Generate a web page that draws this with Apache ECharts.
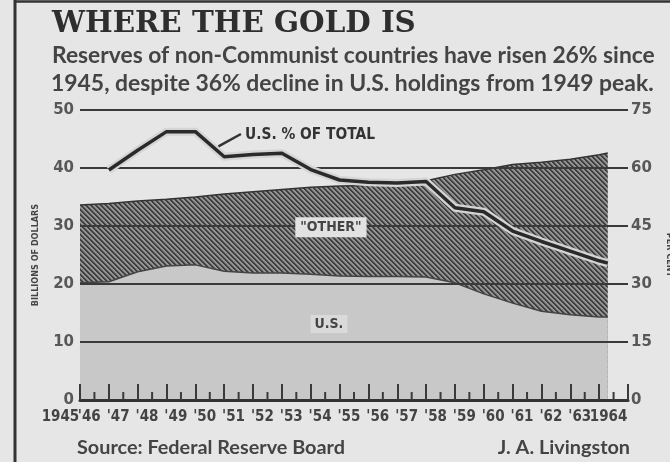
<!DOCTYPE html>
<html><head><meta charset="utf-8">
<script src="https://cdn.jsdelivr.net/npm/echarts@6/dist/echarts.min.js"></script>
<style>html,body{margin:0;padding:0;background:#e6e6e6}#c{width:670px;height:462px}</style>
</head><body><div id="c"></div>
<script>
// ---- data ----
const yearLabels = ['1945',"'46","'47","'48","'49","'50","'51","'52","'53","'54","'55","'56","'57","'58","'59","'60","'61","'62","'63",'1964'];
// year-end positions, last point = early 1964 reading
const years = [1945,1946,1947,1948,1949,1950,1951,1952,1953,1954,1955,1956,1957,1958,1959,1960,1961,1962,1963,1963.3];
const totalReserves = [33.6,33.9,34.3,34.6,35.0,35.5,35.9,36.3,36.7,36.9,37.0,37.2,37.8,38.9,39.7,40.6,41.0,41.5,42.3,42.6];
const usHoldings    = [20.2,20.4,22.1,23.1,23.3,22.2,21.9,21.9,21.7,21.4,21.3,21.3,21.2,20.2,18.3,16.7,15.3,14.7,14.3,14.3];
const usPercent     = [null,59.5,64.6,69.4,69.4,62.9,63.5,63.8,59.6,56.9,56.3,56.1,56.5,49.7,48.7,43.7,41.0,38.5,36.0,35.4];
const halfYearTicks = [1945.5,1946.5,1947.5,1948.5,1949.5,1950.5,1951.5,1952.5,1953.5,1954.5,1955.5,1956.5,1957.5,1958.5,1959.5,1960.5,1961.5,1962.5,1963.5];

const titleText = 'WHERE THE GOLD IS';
const subLine1 = 'Reserves of non-Communist countries have risen 26% since';
const subLine2 = '1945, despite 36% decline in U.S. holdings from 1949 peak.';

// ---- helpers ----
const mctx = document.createElement('canvas').getContext('2d');
function fit(text, weight, family, width){
  mctx.font = weight + ' 100px ' + family;
  return 100 * width / mctx.measureText(text).width;
}
function makeHatch(){
  const s = 5, c = document.createElement('canvas'); c.width = s; c.height = s;
  const g = c.getContext('2d'); const img = g.createImageData(s, s);
  for (let y = 0; y < s; y++) for (let x = 0; x < s; x++) {
    const d = ((x - y) % s + s) % s;
    const v = d < 2 ? 0x3e : (d === 2 ? 0x70 : 0x94);
    const i = (y * s + x) * 4;
    img.data[i] = v; img.data[i+1] = v; img.data[i+2] = v; img.data[i+3] = 255;
  }
  g.putImageData(img, 0, 0);
  return c;
}
const hatch = makeHatch();

const totalPts = years.map((y, i) => [y, totalReserves[i]]);
const usPts = years.map((y, i) => [y, usHoldings[i]]);
const pctPts = years.map((y, i) => [y, usPercent[i]]).filter(p => p[1] !== null);

const chart = echarts.init(document.getElementById('c'), null, {renderer: 'canvas'});
const numFont = {fontFamily: 'DejaVu Sans', fontWeight: 'bold', fontSize: 15, color: '#585858'};
const option = {
  backgroundColor: '#e6e6e6',
  animation: false,
  grid: [
    {left: 80, right: 42, top: 110, bottom: 62, outerBoundsMode: 'none', containLabel: false},
    {left: 46, right: 47, top: 399, height: 1, outerBoundsMode: 'none', containLabel: false}
  ],
  xAxis: [
    {type: 'value', gridIndex: 0, position: 'bottom', min: 1945, max: 1964, interval: 1, z: 7,
     axisLine: {show: true, lineStyle: {color: '#333', width: 3}},
     axisTick: {show: true, inside: true, length: 16, lineStyle: {color: '#3a3a3a', width: 2}},
     axisLabel: {show: false}, splitLine: {show: false}},
    {type: 'category', gridIndex: 1, data: yearLabels, boundaryGap: true,
     axisLine: {show: false}, axisTick: {show: false},
     axisLabel: {interval: 0, margin: 10, fontFamily: 'DejaVu Sans Condensed', fontWeight: 'bold', fontSize: 15, color: '#444'}}
  ],
  yAxis: [
    {type: 'value', gridIndex: 0, min: 0, max: 50, interval: 10, position: 'left', z: 3,
     axisLine: {show: false}, axisTick: {show: false},
     axisLabel: Object.assign({margin: 6}, numFont),
     splitLine: {show: true, lineStyle: {color: '#3a3a3a', width: 2}},
     name: 'BILLIONS OF DOLLARS', nameLocation: 'middle', nameRotate: 90, nameGap: 40,
     nameTextStyle: {fontFamily: 'DejaVu Sans Condensed', fontWeight: 'bold', fontSize: 9, color: '#444'}},
    {type: 'value', gridIndex: 0, min: 0, max: 75, interval: 15, position: 'right', z: 3,
     axisLine: {show: false}, axisTick: {show: false},
     axisLabel: Object.assign({margin: 3}, numFont),
     splitLine: {show: false},
     name: 'PER CENT', nameLocation: 'middle', nameRotate: -90, nameGap: 37,
     nameTextStyle: {fontFamily: 'DejaVu Sans Condensed', fontWeight: 'bold', fontSize: 9, color: '#444'}},
    {type: 'value', gridIndex: 1, show: false}
  ],
  series: [
    {name: 'Total', type: 'line', xAxisIndex: 0, yAxisIndex: 0, data: totalPts, symbol: 'none', z: 1,
     lineStyle: {color: '#333', width: 1.5}, areaStyle: {color: {image: hatch, repeat: 'repeat'}, opacity: 1}},
    {name: 'U.S.', type: 'line', xAxisIndex: 0, yAxisIndex: 0, data: usPts, symbol: 'none', z: 2,
     lineStyle: {color: '#444', width: 1.5}, areaStyle: {color: '#c8c8c8', opacity: 1}},
    {name: 'halo', type: 'line', xAxisIndex: 0, yAxisIndex: 1, data: pctPts, symbol: 'none', z: 4,
     lineStyle: {color: '#d4d4d4', width: 8, join: 'round'}},
    {name: 'U.S. % of total', type: 'line', xAxisIndex: 0, yAxisIndex: 1, data: pctPts, symbol: 'none', z: 5,
     lineStyle: {color: '#2a2a2a', width: 3.5, join: 'round'}}
  ]
};
chart.setOption(option);

// ---- text / annotations ----
const titleSize = fit(titleText, 'bold', 'DejaVu Serif', 364);
const subSize1 = fit(subLine1, 'bold', 'Lato', 603);
const subSize2 = fit(subLine2, 'bold', 'Lato', 603);
const annSize = fit('U.S. % OF TOTAL', 'bold', 'DejaVu Sans Condensed', 130);
const srcSize = fit('Source: Federal Reserve Board', 'bold', 'Lato', 268);
const px = (x, y, yi) => chart.convertToPixel({xAxisIndex: 0, yAxisIndex: yi}, [x, y]);
const annPos = px(1950.72, 68.5, 1);
const lead0 = px(1950.58, 68.8, 1), lead1 = px(1949.8, 65.6, 1);
const otherPos = px(1953.7, 29.8, 0);
const usPos = px(1953.63, 13.1, 0);
const txt = (x, y, text, font, extra) => ({type: 'text', x: x, y: y, z: 20,
  style: Object.assign({text: text, font: font, fill: '#333', verticalAlign: 'top'}, extra || {})});

// short half-year tick marks placed through the axis scale
const halfTicks = halfYearTicks.map(v => {
  const p = px(v, 0, 0);
  return {type: 'line', z: 20, shape: {x1: p[0], y1: p[1], x2: p[0], y2: p[1] - 8}, style: {stroke: '#3a3a3a', lineWidth: 2}};
});

chart.setOption({graphic: halfTicks.concat([
  {type: 'line', z: 20, shape: {x1: 15, y1: 0, x2: 15, y2: 462}, style: {stroke: '#333', lineWidth: 3}},
  {type: 'line', z: 20, shape: {x1: 14, y1: 1.5, x2: 670, y2: 1.5}, style: {stroke: '#333', lineWidth: 2.5}},
  txt(52, 10, titleText, 'bold ' + titleSize.toFixed(2) + 'px "DejaVu Serif"', {fill: '#2e2e2e'}),
  txt(52, 44, subLine1, 'bold ' + subSize1.toFixed(2) + 'px Lato', {fill: '#444'}),
  txt(51, 72, subLine2, 'bold ' + subSize2.toFixed(2) + 'px Lato', {fill: '#444'}),
  txt(77, 438, 'Source: Federal Reserve Board', 'bold ' + srcSize.toFixed(2) + 'px Lato', {fill: '#444'}),
  txt(630, 438, 'J. A. Livingston', 'bold ' + srcSize.toFixed(2) + 'px Lato', {fill: '#444', align: 'right'}),
  {type: 'line', z: 20, shape: {x1: lead0[0], y1: lead0[1], x2: lead1[0], y2: lead1[1]}, style: {stroke: '#333', lineWidth: 2.5}},
  txt(annPos[0], annPos[1], 'U.S. % OF TOTAL', 'bold ' + annSize.toFixed(2) + 'px "DejaVu Sans Condensed"', {fill: '#333', verticalAlign: 'middle'}),
  {type: 'text', z: 20, x: otherPos[0], y: otherPos[1], style: {text: '"OTHER"', font: 'bold 14px "DejaVu Sans Condensed"', fill: '#444',
    align: 'center', verticalAlign: 'middle', backgroundColor: '#e2e2e2', padding: [3, 5, 3, 5]}},
  {type: 'text', z: 20, x: usPos[0], y: usPos[1], style: {text: 'U.S.', font: 'bold 14px "DejaVu Sans Condensed"', fill: '#444',
    align: 'center', verticalAlign: 'middle', backgroundColor: '#dadada', padding: [2, 4, 2, 4]}}
])});
</script></body></html>
